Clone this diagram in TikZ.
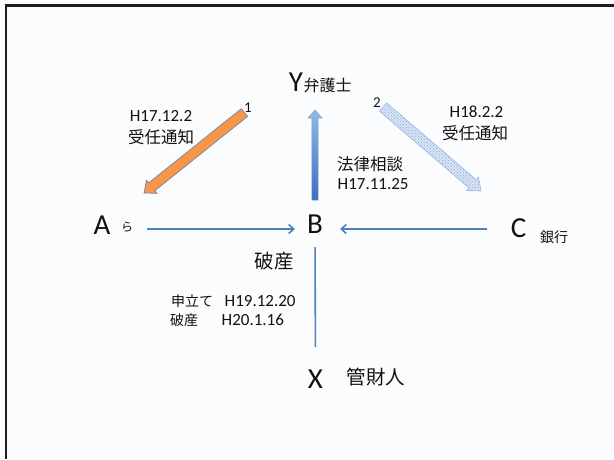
\documentclass[tikz,border=0pt]{standalone}
\usepackage{fontspec}
\setmainfont{Carlito}
\newfontfamily\jp{Noto Sans CJK JP}
\usetikzlibrary{calc,arrows.meta,patterns}
\definecolor{flowblue}{HTML}{4F81BD}
\definecolor{orangefill}{HTML}{F79646}
\definecolor{orangeedge}{HTML}{5B84BE}
\definecolor{hatchbase}{HTML}{D8E3F4}
\definecolor{hatchdot}{HTML}{8AAADD}
\definecolor{hatchedge}{HTML}{9DB8E2}
\definecolor{uptop}{HTML}{93B7E6}
\definecolor{upbottom}{HTML}{3A70BF}
\definecolor{upedge}{HTML}{7BA2D8}
\definecolor{bgc}{HTML}{FBFCFE}
\definecolor{framec}{HTML}{1E1E1E}
\definecolor{txt}{HTML}{111111}
% block arrow: #1 tail, #2 tip, #3 shaft half width, #4 head half width, #5 head length, #6 style
\newcommand\myblockarrow[6]{%
  \path coordinate (baH) at ($(#2)!#5!(#1)$);
  \path[#6] ($(#1)!#3!90:(#2)$) -- ($(baH)!#3!90:(#2)$) -- ($(baH)!#4!90:(#2)$)
    -- (#2) -- ($(baH)!#4!-90:(#2)$) -- ($(baH)!#3!-90:(#2)$) -- ($(#1)!#3!-90:(#2)$) -- cycle;}
\begin{document}
\begin{tikzpicture}[x=1pt,y=-1pt,
  big/.style={font=\fontsize{29}{29}\selectfont, inner sep=0pt, text=txt},
  lat/.style={font=\fontsize{17}{17}\selectfont, inner sep=0pt, text=txt},
  jpl/.style={font=\jp\fontsize{16.5}{16.5}\selectfont, inner sep=0pt, text=txt},
  jpb/.style={font=\jp\fontsize{19.5}{19.5}\selectfont, inner sep=0pt, text=txt},
  jpsm/.style={font=\jp\fontsize{14}{14}\selectfont, inner sep=0pt, text=txt},
  jpxs/.style={font=\jp\fontsize{12}{12}\selectfont, inner sep=0pt, text=txt},
  num/.style={font=\fontsize{15}{15}\selectfont, inner sep=0pt, text=txt},
  flow/.style={draw=flowblue, line width=1.6pt, -{Straight Barb[length=5pt,width=9pt]}},
  plainline/.style={draw=flowblue, line width=1.6pt}]
\useasboundingbox (0,0) rectangle (614,459);
\fill[bgc] (0,0) rectangle (614,459);
\draw[framec, line width=2.8pt] (6,459) -- (6,5.5) -- (614,5.5);

% main nodes
\node[big] (Y) at (296,82) {Y};
\node[jpl, font=\jp\fontsize{16}{16}\selectfont] (Ylab) at (327.5,85) {弁護士};
\node[big] (A) at (102,225) {A};
\node[jpxs] (Ara) at (127,227.5) {ら};
\node[big] (B) at (315,224) {B};
\node[big] (C) at (518.5,228) {C};
\node[jpsm] (Cgin) at (554,237.5) {銀行};
\node[big] (X) at (315.5,379) {X};
\node[jpb] (Xkan) at (376,377.5) {管財人};

% labels
\node[lat] (d1) at (161,116) {H17.12.2};
\node[jpl] (j1) at (161,137) {受任通知};
\node[lat] (d2) at (476.5,112) {H18.2.2};
\node[jpl] (j2) at (475,133) {受任通知};
\node[jpl, anchor=west] (hou) at (337,164.5) {法律相談};
\node[lat, anchor=west] (d3) at (337.5,184.5) {H17.11.25};
\node[jpb] (hasan) at (274,261.5) {破産};
\node[jpsm, anchor=west] (mou) at (171,301) {申立て};
\node[lat, anchor=west] (d4) at (224.5,301) {H19.12.20};
\node[jpsm, anchor=west] (has2) at (170,320) {破産};
\node[lat, anchor=west] (d5) at (221.5,320) {H20.1.16};
\node[num] (n1) at (248,107.5) {1};
\node[num] (n2) at (377,102.5) {2};

% connectors
\draw[flow, shorten <=14pt, shorten >=12pt] ([yshift=-1.5pt]Ara.east) -- ([yshift=-5pt]B.west);
\draw[flow, shorten <=24pt, shorten >=17pt] ([yshift=-1pt]C.west) -- ([yshift=-5pt]B.east);
\draw[plainline, shorten <=13.7pt, shorten >=22.7pt] (B.south) -- (X.north);

% block arrows
\coordinate (o1) at (244.5,112.5);
\coordinate (o2) at (144,193);
\myblockarrow{o1}{o2}{5pt}{8.5pt}{10pt}{fill=orangefill, draw=orangeedge, line width=0.6pt}
\coordinate (h1) at (383,107);
\coordinate (h2) at (481,191);
\myblockarrow{h1}{h2}{5.5pt}{9pt}{11pt}{preaction={fill=hatchbase}, pattern=crosshatch dots, pattern color=hatchdot, draw=hatchedge, line width=0.6pt}
\coordinate (u1) at (315,200);
\coordinate (u2) at (315,110);
\myblockarrow{u1}{u2}{3.2pt}{7pt}{8pt}{top color=uptop, bottom color=upbottom, draw=upedge, line width=0.5pt}
\end{tikzpicture}
\end{document}
